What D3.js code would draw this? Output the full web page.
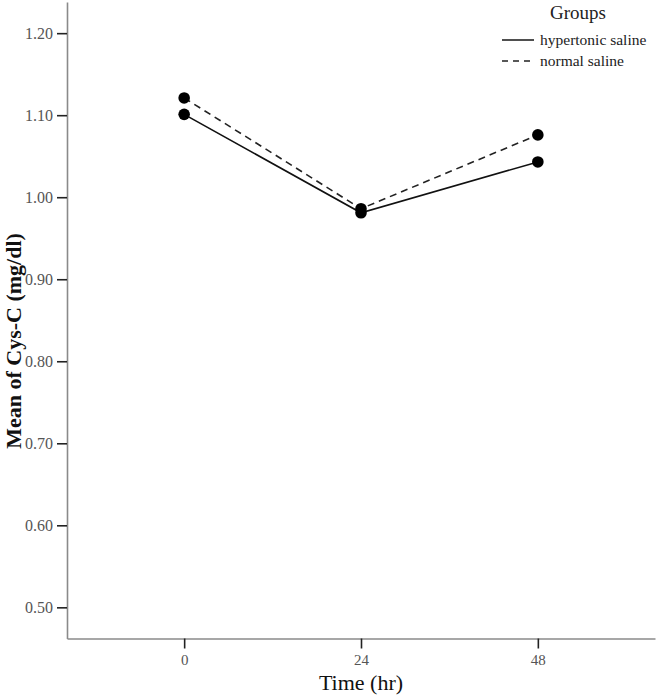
<!DOCTYPE html>
<html>
<head>
<meta charset="utf-8">
<script src="https://cdn.jsdelivr.net/npm/d3@7"></script>
<style>
  body { margin: 0; background: #fff; }
  text { font-family: "Liberation Serif", "Times New Roman", serif; }
</style>
</head>
<body>
<div id="chart"></div>
<script>
// data
const times = [0, 24, 48];
const hypertonic = [1.101, 0.981, 1.043];
const normal = [1.121, 0.986, 1.076];
const yTicks = [0.50, 0.60, 0.70, 0.80, 0.90, 1.00, 1.10, 1.20];
const groups = ["hypertonic saline", "normal saline"];

const width = 657, height = 698;

const svg = d3.select("#chart")
  .append("svg")
  .attr("width", width)
  .attr("height", height);

// scales
const x = d3.scaleLinear().domain([-15.9, 63.9]).range([67, 655]);
const y = d3.scaleLinear().domain([0.462, 1.238]).range([638.5, 2]);

// axes
const xAxis = d3.axisBottom(x).tickValues(times).tickSize(10).tickSizeOuter(0).tickPadding(6);
const yAxis = d3.axisLeft(y).tickValues(yTicks).tickSize(10).tickSizeOuter(0).tickPadding(4)
  .tickFormat(d3.format(".2f"));

const gx = svg.append("g")
  .attr("transform", `translate(0,${y.range()[0]})`)
  .call(xAxis);
const gy = svg.append("g")
  .attr("transform", `translate(${x.range()[0]},0)`)
  .call(yAxis);

[gx, gy].forEach(g => {
  g.attr("font-family", null);
  g.select(".domain").attr("stroke", "#8a8a8a").attr("stroke-width", 1.6);
  g.selectAll(".tick line").attr("stroke", "#222").attr("stroke-width", 1.6);
  g.selectAll(".tick text")
    .attr("fill", "#555")
    .attr("font-size", "15px");
});
gy.selectAll(".tick text").attr("font-size", "16px");

// lines
const line = d3.line()
  .x((d, i) => x(times[i]))
  .y(d => y(d));

svg.append("path")
  .datum(normal)
  .attr("fill", "none")
  .attr("stroke", "#222")
  .attr("stroke-width", 1.6)
  .attr("stroke-dasharray", "7,5")
  .attr("d", line);

svg.append("path")
  .datum(hypertonic)
  .attr("fill", "none")
  .attr("stroke", "#111")
  .attr("stroke-width", 1.6)
  .attr("d", line);

// points
[normal, hypertonic].forEach(series => {
  svg.selectAll(null)
    .data(series)
    .join("circle")
    .attr("cx", (d, i) => x(times[i]))
    .attr("cy", d => y(d))
    .attr("r", 5.8)
    .attr("fill", "#000");
});

// axis titles
svg.append("text")
  .attr("x", x(24))
  .attr("y", 690)
  .attr("text-anchor", "middle")
  .attr("font-size", "22px")
  .attr("fill", "#111")
  .text("Time (hr)");

svg.append("text")
  .attr("transform", "translate(21,341) rotate(-90)")
  .attr("text-anchor", "middle")
  .attr("font-size", "22px")
  .attr("font-weight", "bold")
  .attr("fill", "#111")
  .text("Mean of Cys-C (mg/dl)");

// legend
const legend = svg.append("g").attr("transform", "translate(502,0)");
legend.append("text")
  .attr("x", 76)
  .attr("y", 19)
  .attr("text-anchor", "middle")
  .attr("font-size", "19px")
  .attr("fill", "#222")
  .text("Groups");

groups.forEach((g, i) => {
  const ly = 40 + i * 21;
  legend.append("line")
    .attr("x1", 0).attr("x2", 32)
    .attr("y1", ly).attr("y2", ly)
    .attr("stroke", "#222")
    .attr("stroke-width", 1.6)
    .attr("stroke-dasharray", i === 1 ? "6,5" : null);
  legend.append("text")
    .attr("x", 38)
    .attr("y", ly + 5)
    .attr("font-size", "15.5px")
    .attr("fill", "#222")
    .text(g);
});
</script>
</body>
</html>
